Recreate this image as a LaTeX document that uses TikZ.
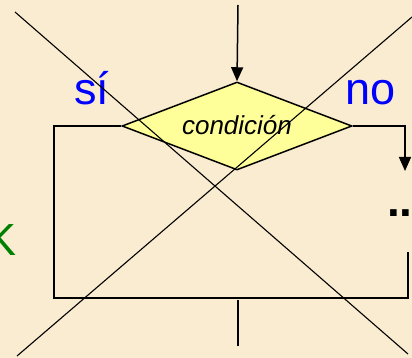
\documentclass[tikz,border=0pt]{standalone}
\usepackage{fontspec}
\setmainfont{Liberation Sans}
\usetikzlibrary{shapes.geometric,arrows.meta}
\definecolor{bg}{RGB}{250,236,208}
\definecolor{dfill}{RGB}{255,255,153}
\definecolor{kgreen}{RGB}{0,128,0}
\tikzset{
  flow/.style={line width=1.5pt,black},
  arr/.style={flow,-{Triangle[width=12pt,length=14pt]}},
  cross/.style={line width=1.1pt,black},
  big/.style={font=\fontsize{45}{52}\selectfont,inner sep=0pt},
}
\begin{document}
\begin{tikzpicture}[x=1pt,y=-1pt]
\useasboundingbox[fill=bg] (0,0) rectangle (412,358);
\node[diamond,draw,flow,fill=dfill,minimum width=230pt,minimum height=88pt,inner sep=0pt,aspect=2.61] (d) at (237,126) {};
\node[inner sep=0pt,anchor=base,font=\fontsize{26}{30}\selectfont\itshape] (ct) at (237,135) {condición};
\coordinate (t) at (238,5);
\draw[arr] (t) -- (d.north);
\coordinate (lt) at (54,126);
\coordinate (lb) at (54,298);
\coordinate (rb) at (408,298);
\coordinate (re) at (408,252);
\draw[flow] (d.west) -- (lt) -- (lb) -- (rb) -- (re);
\coordinate (rt) at (405,126);
\coordinate (ra) at (405,171);
\draw[arr] (d.east) -- (rt) -- (ra);
\coordinate (bt) at (238,300);
\coordinate (bb) at (238,346);
\draw[flow] (bt) -- (bb);
\node[big,anchor=base west,text=blue] (si) at (74,105) {sí};
\node[big,anchor=base west,text=blue] (no) at (345,105) {no};
\node[big,anchor=base west,text=kgreen] (k) at (-14,255) {K};
\node[inner sep=0pt,anchor=base west,font=\fontsize{46}{52}\selectfont\bfseries] (dots) at (387,216) {...};
\coordinate (c1a) at (15,12);
\coordinate (c1b) at (408,354);
\coordinate (c2a) at (412,17);
\coordinate (c2b) at (17,356);
\draw[cross] (c1a) -- (c1b);
\draw[cross] (c2a) -- (c2b);
\end{tikzpicture}
\end{document}
